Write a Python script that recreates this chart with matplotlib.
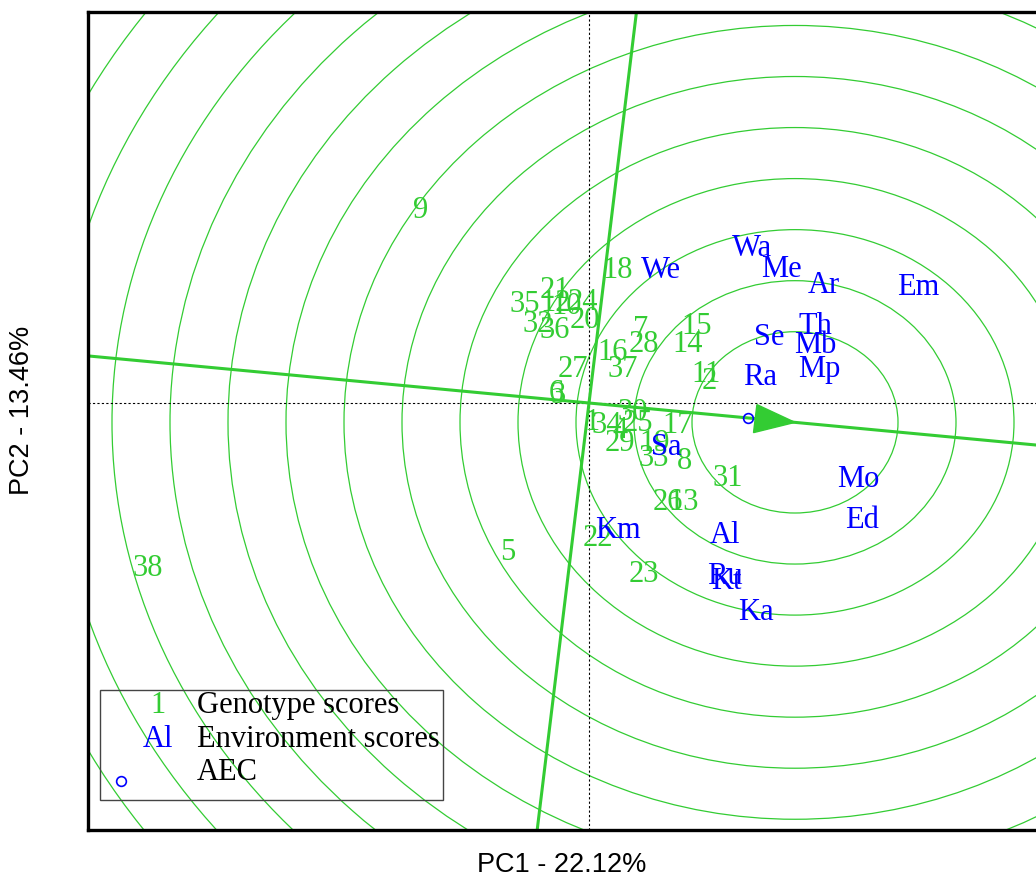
import matplotlib
matplotlib.use("Agg")
import matplotlib.pyplot as plt
import numpy as np
from matplotlib.patches import Circle, Polygon, Rectangle

# ---- biplot scores -------------------------------------------------------
genotypes = [str(i) for i in range(1, 39)]
geno_pc1 = [0.03, 1.20, -0.31, 0.31, -0.81, -0.33, 0.52, 0.96, -1.68, -0.22,
            1.17, -0.33, 0.95, 0.99, 1.08, 0.24, 0.89, 0.29, 0.66, -0.04,
            -0.34, 0.09, 0.55, -0.06, 0.49, 0.79, -0.16, 0.55, 0.31, 0.44,
            1.39, -0.51, 0.65, 0.18, -0.64, -0.34, 0.34, -4.41]
geno_pc2 = [-0.19, 0.28, 0.12, -0.28, -1.67, 0.14, 0.86, -0.64, 2.22, 1.13,
            0.35, 1.16, -1.10, 0.69, 0.90, 0.60, -0.22, 1.53, -0.43, 0.97,
            1.31, -1.51, -1.92, 1.17, -0.20, -1.10, 0.41, 0.69, -0.43, -0.08,
            -0.83, 0.92, -0.60, -0.22, 1.15, 0.85, 0.41, -1.85]

environments = ["Al", "Ar", "Ed", "Em", "Ka", "Km", "Kt", "Mb", "Me", "Mo",
                "Mp", "Ra", "Ru", "Sa", "Se", "Th", "Wa", "We"]
env_pc1 = [1.36, 2.35, 2.73, 3.29, 1.67, 0.29, 1.37, 2.26, 1.92, 2.69,
           2.30, 1.71, 1.36, 0.77, 1.80, 2.26, 1.63, 0.72]
env_pc2 = [-1.48, 1.36, -1.31, 1.34, -2.35, -1.42, -2.00, 0.68, 1.55, -0.84,
           0.41, 0.32, -1.94, -0.47, 0.77, 0.90, 1.78, 1.53]

aec_point = (1.59, -0.17)      # average environment marker
ideal_point = (2.06, -0.22)    # ideal genotype (arrow head, circle centre)
ring_first = 1.03
ring_step = 0.58
ring_count = 14

x_label = "PC1 - 22.12%"
y_label = "PC2 - 13.46%"

GREEN = "#33cc33"
BLUE = "#0000ff"
SERIF = ["Liberation Serif", "DejaVu Serif"]
SANS = ["Liberation Sans", "DejaVu Sans"]

fig = plt.figure(figsize=(10.36, 8.76), dpi=100)
ax = fig.add_axes([88 / 1036, 46 / 876, (1045 - 88) / 1036, 818 / 876])
ax.set_xlim(-5.01, 4.56)
ax.set_ylim(-4.852, 4.443)
ax.set_xticks([])
ax.set_yticks([])
for s in ax.spines.values():
    s.set_linewidth(2.4)
    s.set_color("black")

# concentric rings around the ideal genotype
for k in range(ring_count):
    r = ring_first + k * ring_step
    ax.add_patch(Circle(ideal_point, r, fill=False, edgecolor=GREEN,
                        linewidth=0.9, zorder=1))

# origin cross
ax.axhline(0, color="black", linewidth=0.8, linestyle=(0, (2, 2)), zorder=1)
ax.axvline(0, color="black", linewidth=0.8, linestyle=(0, (2, 2)), zorder=1)

# AEC abscissa and ordinate
u = np.array(ideal_point) / np.hypot(*ideal_point)
n = np.array([-u[1], u[0]])
L = 20
ax.plot([-L * u[0], L * u[0]], [-L * u[1], L * u[1]], color=GREEN,
        linewidth=2.2, zorder=2)
ax.plot([-L * n[0], L * n[0]], [-L * n[1], L * n[1]], color=GREEN,
        linewidth=2.2, zorder=2)

# arrow head at the ideal point
tip = np.array(ideal_point)
base = tip - 0.40 * u
head = Polygon([tip, base + 0.16 * n, base - 0.16 * n], closed=True,
               facecolor=GREEN, edgecolor=GREEN, linewidth=1, zorder=4)
ax.add_patch(head)

# AEC marker
ax.plot([aec_point[0]], [aec_point[1]], marker="o", markersize=7,
        markerfacecolor="none", markeredgecolor=BLUE, markeredgewidth=1.2,
        zorder=3)

label_kw = dict(textcoords="offset points", xytext=(0, -7.3), ha="center",
                va="baseline", fontsize=22, family=SERIF, zorder=5)
for name, x, y in zip(genotypes, geno_pc1, geno_pc2):
    ax.annotate(name, (x, y), color=GREEN, **label_kw)
for name, x, y in zip(environments, env_pc1, env_pc2):
    ax.annotate(name, (x, y), color=BLUE, **label_kw)

# legend box
ax.add_patch(Rectangle((12 / 957, 30 / 818), 343 / 957, 110 / 818,
                       transform=ax.transAxes, fill=False,
                       edgecolor="#444444", linewidth=1.0, zorder=6))
leg_kw = dict(transform=ax.transAxes, fontsize=22, family=SERIF,
              va="baseline", zorder=6)
ax.text(70 / 957, (830 - 713) / 818, "1", color=GREEN, ha="center", **leg_kw)
ax.text(70 / 957, (830 - 747) / 818, "Al", color=BLUE, ha="center", **leg_kw)
ax.plot([33 / 957], [(830 - 781) / 818], marker="o", markersize=7,
        markerfacecolor="none", markeredgecolor=BLUE, markeredgewidth=1.2,
        transform=ax.transAxes, zorder=6)
ax.text(109 / 957, (830 - 713) / 818, "Genotype scores", color="black",
        ha="left", **leg_kw)
ax.text(109 / 957, (830 - 747) / 818, "Environment scores", color="black",
        ha="left", **leg_kw)
ax.text(109 / 957, (830 - 780) / 818, "AEC", color="black", ha="left",
        **leg_kw)

fig.text(562 / 1036, 1 - 872 / 876, x_label, ha="center", va="baseline",
         fontsize=19.5, family=SANS)
fig.text(22 / 1036, 1 - 410 / 876, y_label, ha="center", va="center",
         rotation=90, fontsize=19.5, family=SANS)

fig.savefig("out.png", dpi=100)
